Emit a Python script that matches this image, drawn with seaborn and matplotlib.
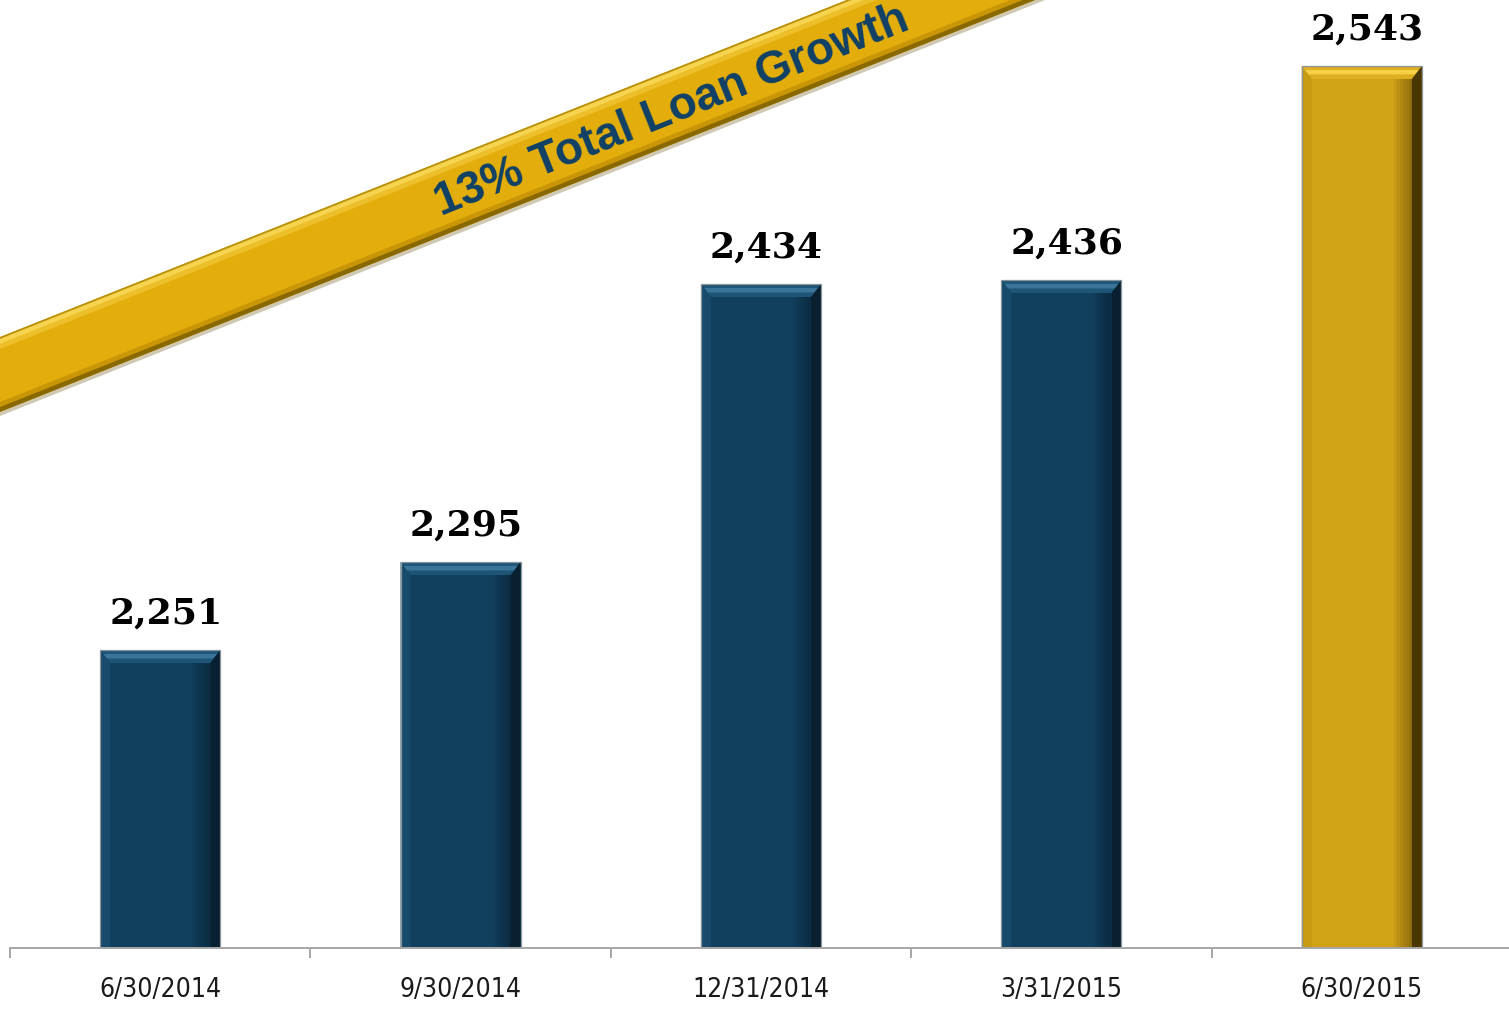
import matplotlib
matplotlib.use("Agg")
import matplotlib.pyplot as plt
from matplotlib.patches import Polygon
import pandas as pd
import seaborn as sns

# Quarter-end dates and total loans ($ millions)
dates = ["6/30/2014", "9/30/2014", "12/31/2014", "3/31/2015", "6/30/2015"]
loans = [2251, 2295, 2434, 2436, 2543]
growth_label = "13% Total Loan Growth"

NAVY = "#11405F"
GOLD = "#D1A116"
bar_colors = [NAVY, NAVY, NAVY, NAVY, GOLD]
bevel = {
    NAVY: dict(top="#1E5577", shine="#3A7599", right="#08202F", bottom="#0C3048",
               left="#174A6B"),
    GOLD: dict(top="#DDAE22", shine="#F6CF45", right="#4A3600", bottom="#A88310",
               left="#C99B14"),
}

sns.set_theme(style="white")
W, H = 1509, 1010
fig = plt.figure(figsize=(W / 100, H / 100), dpi=100)
fig.patch.set_facecolor("white")

ax_left, ax_right, ax_bottom_px, ax_top_px = 10, 1512, 948, 0
ax = fig.add_axes([ax_left / W, (H - ax_bottom_px) / H, (ax_right - ax_left) / W,
                   (ax_bottom_px - ax_top_px) / H])
ax.set_facecolor("white")

df = pd.DataFrame({"date": dates, "loans": loans})
sns.barplot(data=df, x="date", y="loans", hue="date", palette=bar_colors,
            legend=False, width=0.4, saturation=1, ax=ax, zorder=3)
ax.set_xlim(-0.5, len(dates) - 0.5)
ax.set_ylim(2102, 2576)

# data units per pixel, for bevel sizing
ux = len(dates) / (ax_right - ax_left)
uy = (2576 - 2102) / (ax_bottom_px - ax_top_px)

for patch, col, v in zip(ax.patches, bar_colors, loans):
    x0, y0 = patch.get_x(), patch.get_y()
    x1, y1 = x0 + patch.get_width(), y0 + patch.get_height()
    patch.set_edgecolor("none")
    b = bevel[col]
    s, t, bb = 10 * ux, 13 * uy, 8 * uy
    polys = [
        ([(x0, y1), (x1, y1), (x1 - s, y1 - t), (x0 + s, y1 - t)], b["top"]),
        ([(x0 + 0.3 * s, y1 - 0.3 * t), (x1 - 0.3 * s, y1 - 0.3 * t),
          (x1 - 0.65 * s, y1 - 0.65 * t), (x0 + 0.65 * s, y1 - 0.65 * t)], b["shine"]),
        ([(x1, y1), (x1, y0), (x1 - s, y0 + bb), (x1 - s, y1 - t)], b["right"]),
        ([(x0, y0), (x1, y0), (x1 - s, y0 + bb), (x0 + s, y0 + bb)], b["bottom"]),
        ([(x0, y1), (x0 + s, y1 - t), (x0 + s, y0 + bb), (x0, y0)], b["left"]),
    ]
    for pts, c in polys:
        ax.add_patch(Polygon(pts, closed=True, facecolor=c, edgecolor="none",
                             zorder=4))
    # soft shading toward the right edge of the face
    for i in range(6):
        ax.add_patch(Polygon([(x1 - s - (6 - i) * 3 * ux, y1 - t),
                              (x1 - s, y1 - t), (x1 - s, y0 + bb),
                              (x1 - s - (6 - i) * 3 * ux, y0 + bb)],
                             closed=True, facecolor="black", alpha=0.05,
                             edgecolor="none", zorder=4))
    ax.add_patch(Polygon([(x0, y1), (x1, y1), (x1, y0), (x0, y0)], closed=True,
                         facecolor="none", edgecolor="#8A949B", lw=0.9, zorder=5))
    ax.annotate(f"{v:,}", xy=(patch.get_x() + patch.get_width() / 2, y1),
                xytext=(4, 14), textcoords="offset points", ha="center",
                va="bottom", fontsize=26, fontweight="heavy",
                family="DejaVu Serif", color="black", zorder=6)

# axis styling
for side in ("left", "top", "right"):
    ax.spines[side].set_visible(False)
ax.spines["bottom"].set_color("#A6A6A6")
ax.spines["bottom"].set_linewidth(1.4)
ax.spines["bottom"].set_zorder(6)
ax.set_yticks([])
ax.set_xlabel("")
ax.set_ylabel("")
ax.set_xticks(range(len(dates)))
ax.set_xticks([i - 0.5 for i in range(len(dates) + 1)], minor=True)
ax.tick_params(axis="x", which="major", bottom=True, length=0, pad=21)
ax.tick_params(axis="x", which="minor", bottom=True, length=7.5, width=1.4,
               color="#A6A6A6", direction="out")
for lab in ax.get_xticklabels():
    lab.set_fontfamily("DejaVu Sans")
    lab.set_fontstretch("condensed")
    lab.set_fontsize(19)
    lab.set_color("#1A1A1A")

# diagonal growth ribbon, in figure pixel space
def fig_pt(px, py):
    return (px / W, 1 - py / H)

slope = 0.398
up0, lo0 = 337, 412

def edge(y0, x):
    return y0 - slope * x

xa, xb = -20, 1120

def band(o0, o1, color, z, alpha=1.0):
    pts = [fig_pt(xa, edge(o0, xa)), fig_pt(xb, edge(o0, xb)),
           fig_pt(xb, edge(o1, xb)), fig_pt(xa, edge(o1, xa))]
    fig.add_artist(Polygon(pts, closed=True, transform=fig.transFigure,
                           facecolor=color, edgecolor="none", zorder=z,
                           alpha=alpha))

band(lo0, lo0 + 4, "#CFC8B2", 1)          # faint shadow under the ribbon
band(up0, lo0, "#E3AE0C", 2)              # ribbon body
band(up0, up0 + 2, "#B89210", 3)          # upper rim
band(up0 + 2, up0 + 7, "#F6D450", 3)      # upper highlight
band(up0 + 7, up0 + 12, "#EDBF2A", 3)
band(lo0 - 10, lo0 - 5, "#C99608", 3)     # lower bevel
band(lo0 - 5, lo0, "#8A6800", 3)

cx = 672
cy = (up0 + lo0) / 2 - slope * cx + 4
fig.text(*fig_pt(cx, cy), growth_label, rotation=21.7, rotation_mode="anchor",
         ha="center", va="center", fontsize=33, fontweight="bold",
         family="Liberation Sans", color="#0F4066", zorder=4)

fig.savefig("out.png", dpi=100, facecolor="white")
